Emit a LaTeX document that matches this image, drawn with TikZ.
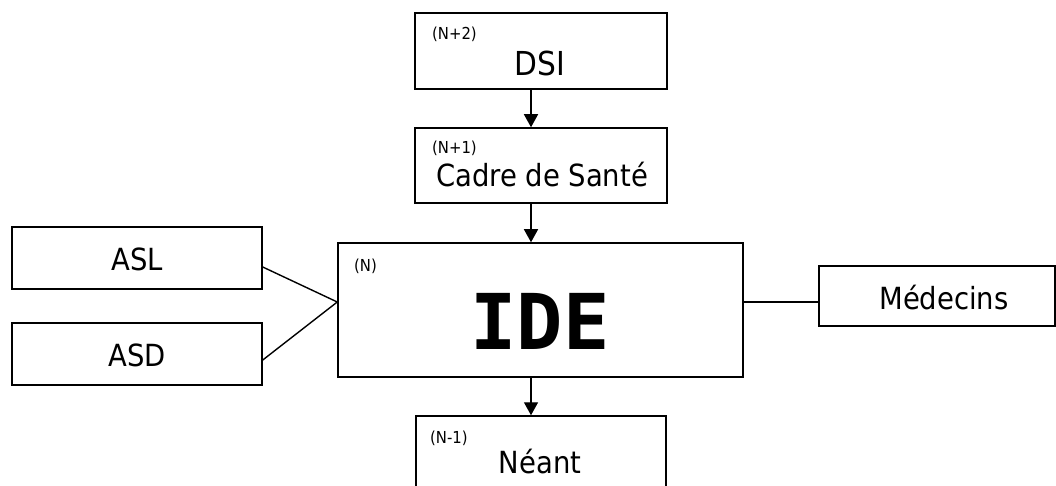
\documentclass[tikz,border=0pt]{standalone}
\usepackage{fontspec}
\setmainfont{DejaVu Sans Condensed}
\newfontfamily\idefont{DejaVu Sans Mono}
\usetikzlibrary{arrows.meta,calc}
\tikzset{
  box/.style={draw=black, line width=1.5pt, fill=white, rectangle, inner sep=0pt},
  lbl/.style={font=\fontsize{30.5}{32}\selectfont, inner sep=0pt, anchor=base},
  lvl/.style={font=\fontsize{16.5}{18}\selectfont, inner sep=0pt, anchor=base west, text=black},
  conn/.style={line width=1.4pt},
  arr/.style={line width=1.4pt, -{Triangle[width=14pt,length=13pt]}}
}
\begin{document}
\begin{tikzpicture}[x=1pt,y=-1pt]
\useasboundingbox (0,0) rectangle (1056,486);
% boxes
\node[box, minimum width=252pt, minimum height=76pt] (dsi) at (541,51) {};
\node[box, minimum width=252pt, minimum height=75pt] (cadre) at (541,165.5) {};
\node[box, minimum width=405pt, minimum height=134pt] (ide) at (540.5,310) {};
\node[box, minimum width=250pt, minimum height=62pt] (asl) at (137,258) {};
\node[box, minimum width=250pt, minimum height=62pt] (asd) at (137,354) {};
\node[box, minimum width=236pt, minimum height=60pt] (med) at (937,296) {};
\node[box, minimum width=250pt, minimum height=76pt] (neant) at (541,454) {};
% texts
\node[lvl] (t1) at (432,40) {(N+2)};
\node[lbl, font=\fontsize{33}{35}\selectfont] (t2) at (540,76) {DSI};
\node[lvl] (t3) at (432,154) {(N+1)};
\node[lbl] (t4) at (542,187) {Cadre de Santé};
\node[lvl] (t5) at (354,271) {(N)};
\node[lbl, font=\idefont\bfseries\fontsize{77}{80}\selectfont] (t6) at (540,349) {IDE};
\node[lbl] (t7) at (137,270) {ASL};
\node[lbl] (t8) at (137,366) {ASD};
\node[lbl] (t9) at (944,309) {Médecins};
\node[lvl] (t10) at (430,443) {(N-1)};
\node[lbl] (t11) at (540,473) {Néant};
% connectors
\coordinate (ax) at (531,0);
\coordinate (jl) at ($(ide.west)+(0,-8)$);
\coordinate (jr) at ($(ide.east)+(0,-8)$);
\draw[arr] (dsi.south -| ax) -- (cadre.north -| ax);
\draw[arr] (cadre.south -| ax) -- (ide.north -| ax);
\draw[arr] (ide.south -| ax) -- (neant.north -| ax);
\draw[conn] ($(asl.east)+(0,9)$) -- (jl);
\draw[conn] ($(asd.east)+(0,6)$) -- (jl);
\draw[conn] (jr) -- (med.west |- jr);
\end{tikzpicture}
\end{document}
